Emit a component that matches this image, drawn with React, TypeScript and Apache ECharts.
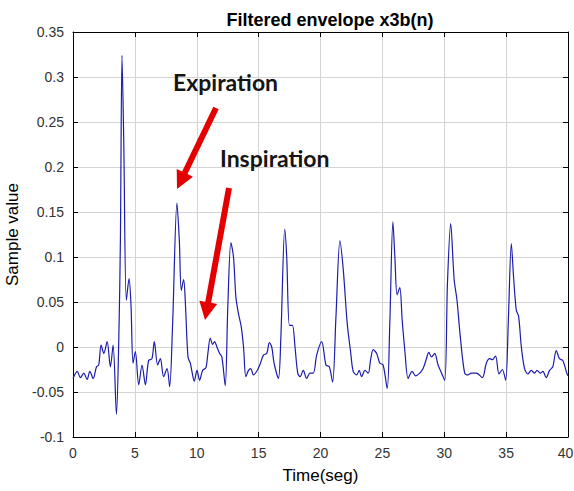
import React, { useEffect, useRef } from "react";
import * as echarts from "echarts";

const timeSec: number[] = [
  0.0, 0.34, 0.6, 0.87, 1.14, 1.36, 1.63, 1.9, 2.08, 2.27, 2.49, 2.76, 3.02, 3.24, 3.51, 3.7, 3.83, 3.96, 4.1, 4.31,
  4.53, 4.69, 4.85, 5.04, 5.31, 5.58, 5.85, 6.11, 6.38, 6.57, 6.84, 7.06, 7.32, 7.6, 7.81, 8.05, 8.4, 8.59, 8.75, 8.94,
  9.07, 9.29, 9.48, 9.61, 9.8, 10.02, 10.23, 10.47, 10.74, 10.9, 11.09, 11.28, 11.44, 11.63, 11.84, 12.03, 12.3, 12.51, 12.76, 12.97,
  13.16, 13.37, 13.59, 13.78, 13.97, 14.18, 14.37, 14.58, 14.85, 15.12, 15.39, 15.66, 15.87, 16.06, 16.25, 16.6, 16.79, 17.11, 17.27, 17.49,
  17.73, 17.94, 18.16, 18.35, 18.61, 18.88, 19.15, 19.42, 19.69, 20.1, 20.44, 20.71, 20.98, 21.25, 21.57, 21.84, 22.16, 22.43, 22.64, 22.92,
  23.13, 23.32, 23.59, 23.86, 24.05, 24.26, 24.53, 24.8, 25.06, 25.39, 25.6, 25.85, 26.01, 26.19, 26.41, 26.6, 26.81, 27.08, 27.4, 27.68,
  28.02, 28.29, 28.56, 28.75, 28.97, 29.23, 29.5, 29.72, 30.04, 30.26, 30.52, 30.8, 31.03, 31.3, 31.65, 31.92, 32.19, 32.6, 33.08, 33.4,
  33.67, 33.89, 34.15, 34.42, 34.69, 34.96, 35.18, 35.42, 35.6, 35.82, 36.01, 36.23, 36.49, 36.76, 37.03, 37.3, 37.49, 37.76, 37.97, 38.24,
  38.51, 38.77, 39.05, 39.31, 39.58, 39.9, 40.0,
];

const sampleValue: number[] = [
  -0.035, -0.027, -0.034, -0.029, -0.036, -0.027, -0.035, -0.022, -0.02, 0.002, -0.007, 0.006, -0.022, 0.002, -0.075, 0.008, 0.119, 0.324, 0.23, 0.052,
  0.076, 0.045, -0.018, -0.005, -0.042, -0.02, -0.042, -0.015, -0.013, 0.006, -0.02, -0.013, -0.033, -0.024, -0.044, 0.026, 0.16, 0.119, 0.063, 0.075,
  0.052, -0.011, -0.018, -0.027, -0.038, -0.026, -0.037, -0.026, -0.023, -0.007, 0.01, 0.003, 0.006, 0.0, -0.007, -0.011, -0.043, 0.045, 0.116, 0.1,
  0.056, 0.037, 0.023, 0.0, -0.033, -0.026, -0.024, -0.031, -0.027, -0.019, -0.009, -0.007, 0.005, 0.0, -0.018, -0.035, 0.008, 0.131, 0.1, 0.024,
  0.024, 0.0, -0.029, -0.033, -0.026, -0.035, -0.029, -0.029, -0.009, 0.006, -0.02, -0.022, -0.039, 0.034, 0.118, 0.086, 0.026, -0.005, -0.027, -0.031,
  -0.026, -0.033, -0.026, -0.029, -0.014, -0.003, -0.007, -0.018, -0.02, -0.046, 0.026, 0.139, 0.1, 0.058, 0.066, 0.03, -0.003, -0.035, -0.027, -0.032,
  -0.029, -0.024, -0.013, -0.006, -0.011, -0.007, -0.02, -0.027, -0.037, 0.071, 0.137, 0.075, 0.052, 0.011, -0.029, -0.031, -0.029, -0.029, -0.034, -0.018,
  -0.013, -0.014, -0.01, -0.03, -0.025, -0.037, 0.03, 0.115, 0.078, 0.041, 0.034, 0.0, -0.024, -0.03, -0.026, -0.029, -0.026, -0.029, -0.027, -0.034,
  -0.026, -0.022, -0.004, -0.013, -0.015, -0.029, -0.032,
];

const titleText = "Filtered envelope x3b(n)";
const xAxisName = "Time(seg)";
const yAxisName = "Sample value";
const xMax = 40;
const annotations = [
  { label: "Expiration", tail: [216, 108], tip: [177, 189], textX: 173, textY: 82 },
  { label: "Inspiration", tail: [229, 188], tip: [205, 320], textX: 220, textY: 158 },
];

function arrowPoints(tail: number[], tip: number[], shaft = 6, headLen = 18, headW = 18) {
  const dx = tip[0] - tail[0];
  const dy = tip[1] - tail[1];
  const L = Math.sqrt(dx * dx + dy * dy);
  const ux = dx / L, uy = dy / L;
  const nx = -uy, ny = ux;
  const bx = tip[0] - ux * headLen, by = tip[1] - uy * headLen;
  return [
    [tail[0] + nx * shaft / 2, tail[1] + ny * shaft / 2],
    [bx + nx * shaft / 2, by + ny * shaft / 2],
    [bx + nx * headW / 2, by + ny * headW / 2],
    [tip[0], tip[1]],
    [bx - nx * headW / 2, by - ny * headW / 2],
    [bx - nx * shaft / 2, by - ny * shaft / 2],
    [tail[0] - nx * shaft / 2, tail[1] - ny * shaft / 2],
  ];
}

export default function App() {
  const ref = useRef<HTMLDivElement>(null);
  useEffect(() => {
    if (!ref.current) return;
    const chart = echarts.init(ref.current, undefined, { renderer: "svg" });
    const data = timeSec.map((t, i) => [t, sampleValue[i]]);
    const labelStyle = { color: "#333", fontSize: 14, fontFamily: "Liberation Sans" };
    const fmt = (v: number) => String(parseFloat(v.toFixed(2)));
    const xFmt = (v: number) => (v >= xMax ? "{r|" + fmt(v) + "}" : fmt(v));
    const axisLine = { show: true, onZero: false, lineStyle: { color: "#000", width: 1 } };
    const axisTick = { show: true, inside: true, length: 5, lineStyle: { color: "#000" } };
    const graphic: any[] = [];
    annotations.forEach((a) => {
      graphic.push({
        type: "polygon",
        shape: { points: arrowPoints(a.tail, a.tip) },
        style: { fill: "#e40000" },
        z: 100,
      });
      graphic.push({
        type: "text",
        x: a.textX,
        y: a.textY,
        style: { text: a.label, font: "bold 23px Lato", fill: "#151515", verticalAlign: "middle", align: "left" },
        z: 100,
      });
    });
    chart.setOption({
      animation: false,
      backgroundColor: "#fff",
      title: {
        text: titleText,
        left: 325,
        top: 6,
        textAlign: "center",
        textStyle: { fontSize: 18, fontWeight: "bold", fontFamily: "Liberation Sans", color: "#000" },
      },
      grid: { left: 73, right: 6, top: 32, bottom: 54, containLabel: false, outerBoundsMode: "none" },
      xAxis: [
        {
          type: "value",
          position: "bottom",
          min: 0,
          max: xMax,
          interval: 5,
          name: xAxisName,
          nameLocation: "middle",
          nameGap: 30,
          nameTextStyle: { fontSize: 17, color: "#000", fontFamily: "Liberation Sans" },
          axisLine,
          axisTick,
          axisLabel: {
            ...labelStyle,
            margin: 9,
            formatter: xFmt,
            rich: { r: { color: "#333", fontSize: 14, fontFamily: "Liberation Sans", padding: [0, 5, 0, 0] } },
          },
          splitLine: { show: true, lineStyle: { color: "#d4d4d4", width: 1 } },
        },
        {
          type: "value",
          position: "top",
          min: 0,
          max: xMax,
          interval: 5,
          axisLine,
          axisTick,
          axisLabel: { show: false },
          splitLine: { show: false },
        },
      ],
      yAxis: [
        {
          type: "value",
          position: "left",
          min: -0.1,
          max: 0.35,
          interval: 0.05,
          name: yAxisName,
          nameLocation: "middle",
          nameGap: 46,
          nameTextStyle: { fontSize: 17, color: "#000", fontFamily: "Liberation Sans" },
          axisLine,
          axisTick,
          axisLabel: { ...labelStyle, margin: 9, formatter: fmt },
          splitLine: { show: true, lineStyle: { color: "#d4d4d4", width: 1 } },
        },
        {
          type: "value",
          position: "right",
          min: -0.1,
          max: 0.35,
          interval: 0.05,
          axisLine,
          axisTick,
          axisLabel: { show: false },
          splitLine: { show: false },
        },
      ],
      series: [
        {
          type: "line",
          data,
          xAxisIndex: 0,
          yAxisIndex: 0,
          smooth: 0.3,
          showSymbol: false,
          lineStyle: { color: "#1c1cac", width: 1.2 },
          z: 5,
        },
      ],
      graphic,
    });
    return () => chart.dispose();
  }, []);
  return <div ref={ref} style={{ position: "fixed", left: 0, top: 0, width: 574, height: 491 }} />;
}
